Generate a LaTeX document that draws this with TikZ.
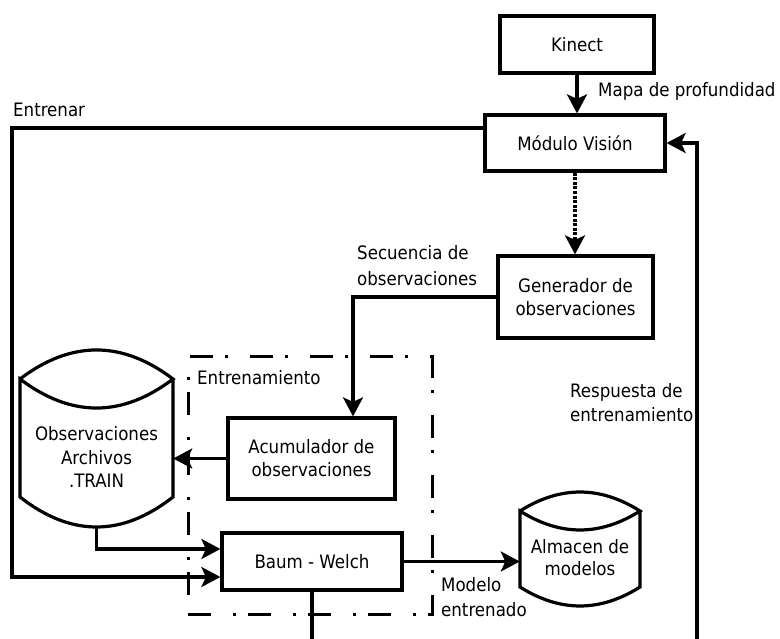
\documentclass[tikz,border=0pt]{standalone}
\usepackage{fontspec}
\setmainfont{DejaVu Sans Condensed}
\usetikzlibrary{arrows.meta,calc}

\begin{document}
\begin{tikzpicture}[x=1pt,y=-1pt,
  every node/.style={font=\fontsize{18.5}{23}\selectfont, inner sep=0pt},
  box/.style={draw, line width=3.2pt, align=center},
  lbl/.style={align=left, anchor=west},
  wire/.style={line width=3.2pt},
  conn/.style={wire, -{Stealth[length=19pt,width=20pt,inset=4.5pt]}},
  dotline/.style={conn, dash pattern=on 3pt off 1.6pt},
  dashdotbox/.style={draw, line width=3pt, dash pattern=on 23pt off 22pt on 3pt off 12pt},
  drum/.style={line width=3.2pt}
]
\useasboundingbox (0,0) rectangle (780,639);

% training group frame
\node[dashdotbox, minimum width=244pt, minimum height=257pt] (train) at (310,485.5) {};
\node[lbl] (trainlbl) at (197,378) {Entrenamiento};

% process boxes
\node[box, minimum width=154pt, minimum height=57pt] (kinect) at (577,44.5) {Kinect};
\node[box, minimum width=180pt, minimum height=56pt] (vision) at (575,143) {Módulo Visión};
\node[box, minimum width=155pt, minimum height=82pt] (gen) at (575.5,297) {Generador de\\observaciones};
\node[box, minimum width=167pt, minimum height=81pt] (acum) at (311.5,458.5) {Acumulador de\\observaciones};
\node[box, minimum width=180pt, minimum height=57pt] (baum) at (312,561.5) {Baum - Welch};

% storage drums
\node[minimum width=153pt, minimum height=177pt] (obs) at (96.5,438.5) {};
\draw[drum] (20,379) .. controls (71,340.3) and (122,340.3) .. (173,379)
            .. controls (122,417.7) and (71,417.7) .. (20,379) -- (20,497)
            .. controls (71,537) and (122,537) .. (173,497) -- (173,379);
\node[align=center, font=\fontsize{18.5}{23.5}\selectfont] (obstext) at (96.5,457) {Observaciones\\Archivos\\.TRAIN};

\node[minimum width=120pt, minimum height=114pt] (store) at (580,549) {};
\draw[drum] (520,511) .. controls (560,485.7) and (600,485.7) .. (640,511)
            .. controls (600,536.3) and (560,536.3) .. (520,511) -- (520,587)
            .. controls (560,612.3) and (600,612.3) .. (640,587) -- (640,511);
\node[align=center, font=\fontsize{18.5}{22}\selectfont] (storetext) at (580,558) {Almacen de\\modelos};

% free ends
\coordinate (trainx) at (12,128);
\coordinate (bwin1) at ($(baum.west)+(0,-12.5)$);
\coordinate (bwin2) at ($(baum.west)+(0,15.5)$);
\coordinate (exitB) at (312,639);
\coordinate (entryR) at (697,639);

% connectors
\draw[conn] (kinect.south) -- (kinect.south |- vision.north);
\draw[dotline] (vision.south) -- (vision.south |- gen.north);
\draw[conn] (gen.west) -| ($(acum.north)+(41.5,0)$);
\draw[conn] (acum.west) -- (acum.west -| obs.east);
\draw[conn] (obs.south) |- (bwin1);
\draw[conn] ($(vision.west)+(0,-15)$) -- (trainx) |- (bwin2);
\draw[conn] (baum.east) -- (baum.east -| store.west);
\draw[wire] (baum.south) -- (exitB);
\draw[conn] (entryR) |- (vision.east);

% connector labels
\node[lbl] (mapa) at (598,91) {Mapa de profundidad};
\node[lbl] (entrenar) at (13,110) {Entrenar};
\node[lbl, font=\fontsize{18.5}{26}\selectfont] (secuencia) at (357,266) {Secuencia de\\observaciones};
\node[lbl, font=\fontsize{18.5}{25}\selectfont] (modelo) at (441,597) {Modelo\\entrenado};
\node[lbl, font=\fontsize{18.5}{24}\selectfont] (respuesta) at (570,403) {Respuesta de\\entrenamiento};
\end{tikzpicture}
\end{document}
